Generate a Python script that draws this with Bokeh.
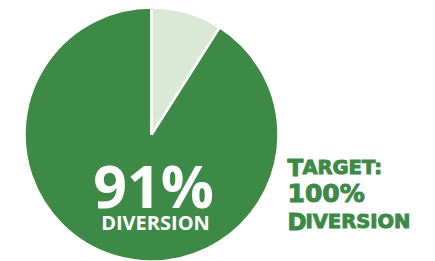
import math
from bokeh.plotting import figure
from bokeh.models import Range1d, ColumnDataSource
from bokeh.core.properties import value
from bokeh.embed import file_html
from bokeh.resources import INLINE

# data
labels = ["Diverted", "Not diverted"]
shares = [91, 9]
colors = ["#3d8946", "#dae8d6"]
big_label = "91%"
sub_label = "DIVERSION"
target_lines = [("T", "ARGET:"), ("100%", ""), ("D", "IVERSION")]

W, H = 435, 261
p = figure(width=W, height=H, output_backend="svg", toolbar_location=None,
           x_range=Range1d(0, W), y_range=Range1d(0, H),
           min_border=0, outline_line_color=None)
p.axis.visible = False
p.grid.visible = False
p.background_fill_color = "white"
p.border_fill_color = "white"

# pie: starts at 12 o'clock, runs clockwise; angles computed from data
total = sum(shares)
a_top = math.pi / 2
light_end = a_top - 2 * math.pi * shares[1] / total
starts = [a_top, light_end]
ends = [light_end + 2 * math.pi, a_top]
src = ColumnDataSource(dict(start=starts, end=ends, color=colors, label=labels))
p.wedge(x=151, y=127, radius=127, start_angle="start", end_angle="end",
        direction="anticlock", fill_color="color", line_color="white",
        line_width=2.5, source=src)

p.text(x=[153], y=[77], text=[big_label], text_font=value("Open Sans"),
       text_font_style="bold", text_font_size="59px", text_color="white",
       text_align="center", text_baseline="alphabetic")
p.text(x=[155], y=[39], text=[sub_label], text_font=value("Open Sans"),
       text_font_style="bold", text_font_size="20px", text_color="white",
       text_align="center", text_baseline="alphabetic")

green = "#3d8946"
base_y = [94, 68, 40]
big_x = 287
small_x = [302, None, 305]
for (big, small), by, sx in zip(target_lines, base_y, small_x):
    p.text(x=[big_x], y=[by], text=[big], text_font=value("DejaVu Sans"),
           text_font_style="bold",
           text_font_size="23px" if small else "25px",
           text_color=green, text_outline_color=green,
           text_align="left", text_baseline="alphabetic")
    if small:
        p.text(x=[sx], y=[by], text=[small], text_font=value("DejaVu Sans"),
               text_font_style="bold", text_font_size="19.5px",
               text_color=green, text_outline_color=green,
               text_align="left", text_baseline="alphabetic")

open("out.html", "w").write(file_html(p, INLINE))
